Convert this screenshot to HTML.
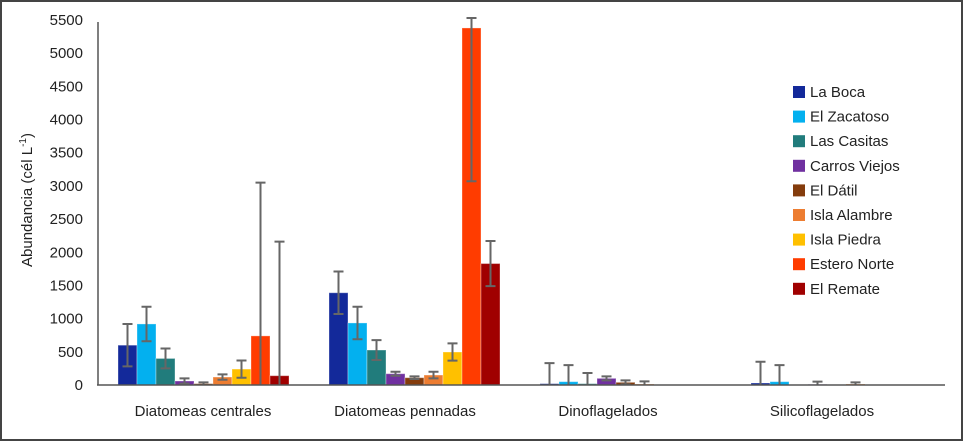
<!DOCTYPE html>
<html><head><meta charset="utf-8"><style>
body{margin:0;background:#fff}
svg{display:block;font-family:"Liberation Sans",sans-serif}
</style></head><body>
<svg id="c" width="963" height="441">
<rect x="1" y="1" width="961" height="439" fill="#fff" stroke="#444" stroke-width="2"/>
<g id="g"></g>
</svg>
<script>
const categories=["Diatomeas centrales","Diatomeas pennadas","Dinoflagelados","Silicoflagelados"];
const seriesNames=["La Boca","El Zacatoso","Las Casitas","Carros Viejos","El Dátil","Isla Alambre","Isla Piedra","Estero Norte","El Remate"];
const colors=["#13299a","#03b0ef","#217c7c","#7030a0","#843c0c","#ed7d31","#ffc000","#ff3c00","#a00000"];
const values=[
 [600,1390,20,30],[920,935,50,50],[400,527,20,0],[60,170,100,10],[20,110,40,0],[120,150,15,15],[240,497,0,0],[740,5380,0,0],[140,1830,0,0]];
const errors=[
 [320,320,310,320],[260,245,250,250],[150,150,160,0],[40,30,30,40],[20,20,30,0],[40,50,40,25],[130,130,0,0],[2310,2310,0,0],[2020,340,0,0]];
const yTicks=[0,500,1000,1500,2000,2500,3000,3500,4000,4500,5000,5500];
const ns="http://www.w3.org/2000/svg",g=document.getElementById('g');
function el(t,a,txt){const e=document.createElementNS(ns,t);for(const k in a)e.setAttribute(k,a[k]);if(txt!=null)e.textContent=txt;g.appendChild(e);return e;}
const y0=385,yMax=5500,yTop=20;
const y=v=>y0-(v/yMax)*(y0-yTop);
const groupStart=i=>118+i*211;
const bw=19;
const labelX=[203,405,608,822];
yTicks.forEach(t=>{const e=el('text',{x:83,y:y(t)+5,'text-anchor':'end','font-size':15,fill:'#222'},t);

});
const yt=el('text',{x:32,y:200,'text-anchor':'middle','font-size':15,fill:'#222',transform:'rotate(-90 32 200)'},'Abundancia (cél L');


const sup=document.createElementNS(ns,'tspan');sup.setAttribute('dy','-6');sup.setAttribute('font-size','10');sup.textContent='-1';yt.appendChild(sup);
const cl=document.createElementNS(ns,'tspan');cl.setAttribute('dy','6');cl.textContent=')';yt.appendChild(cl);
const yax=el('line',{x1:98,x2:98,y1:22,y2:y0,stroke:'#555','stroke-width':1.5});


categories.forEach((c,ci)=>{
 seriesNames.forEach((s,si)=>{
  const v=values[si][ci],er=errors[si][ci],x=groupStart(ci)+si*bw;
  const r=el('rect',{x:x,y:y(v),width:bw,height:y0-y(v),fill:colors[si],stroke:v>0?'#ffffff55':'none'});
  
  
  if(er>0){const cx=x+bw/2,t=Math.max(y(v+er),yTop-2),b=Math.min(y(Math.max(v-er,0)),y0);
   const l=el('path',{d:`M${cx} ${t}V${b}M${cx-5} ${t}H${cx+5}`+(v-er>0?`M${cx-5} ${b}H${cx+5}`:''),stroke:'#666','stroke-width':2,fill:'none'});
   
   }
 });
 const t=el('text',{x:labelX[ci],y:416,'text-anchor':'middle','font-size':15,fill:'#222'},c);
 
 
});
const ax=el('line',{x1:97,x2:945,y1:y0,y2:y0,stroke:'#555','stroke-width':1.5});


seriesNames.forEach((s,i)=>{const yy=92+i*24.6;
 const r=el('rect',{x:793,y:yy-6,width:12,height:12,fill:colors[i]});
 
 
 const t=el('text',{x:810,y:yy+5,'font-size':15,fill:'#222'},s);
 
 
});
</script>
</body></html>
